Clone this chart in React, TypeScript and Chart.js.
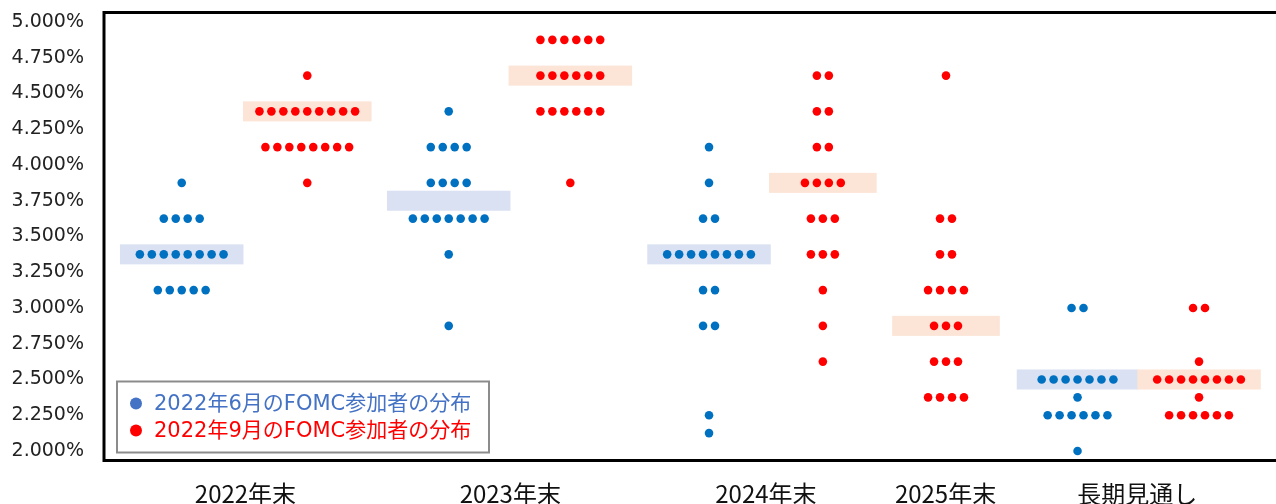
import React, { useEffect, useRef } from "react";
import { Chart, registerables } from "chart.js";

Chart.register(...registerables);

// ---------- data ----------
const categories = ["2022年末", "2023年末", "2024年末", "2025年末", "長期見通し"];
const seriesNames = ["2022年6月のFOMC参加者の分布", "2022年9月のFOMC参加者の分布"];
const yTickValues = [2.0, 2.25, 2.5, 2.75, 3.0, 3.25, 3.5, 3.75, 4.0, 4.25, 4.5, 4.75, 5.0];

// [policy rate (%), number of participants]
const june2022End: number[][] = [[3.875, 1], [3.625, 4], [3.375, 8], [3.125, 5]];
const june2023End: number[][] = [[4.375, 1], [4.125, 4], [3.875, 4], [3.625, 7], [3.375, 1], [2.875, 1]];
const june2024End: number[][] = [[4.125, 1], [3.875, 1], [3.625, 2], [3.375, 8], [3.125, 2], [2.875, 2], [2.25, 1], [2.125, 1]];
const june2025End: number[][] = [];
const juneLongRun: number[][] = [[3.0, 2], [2.5, 7], [2.375, 1], [2.25, 6], [2.0, 1]];

const sep2022End: number[][] = [[4.625, 1], [4.375, 9], [4.125, 8], [3.875, 1]];
const sep2023End: number[][] = [[4.875, 6], [4.625, 6], [4.375, 6], [3.875, 1]];
const sep2024End: number[][] = [[4.625, 2], [4.375, 2], [4.125, 2], [3.875, 4], [3.625, 3], [3.375, 3], [3.125, 1], [2.875, 1], [2.625, 1]];
const sep2025End: number[][] = [[4.625, 1], [3.625, 2], [3.375, 2], [3.125, 4], [2.875, 3], [2.625, 3], [2.375, 4]];
const sepLongRun: number[][] = [[3.0, 2], [2.625, 1], [2.5, 8], [2.375, 1], [2.25, 6]];

const juneMedians: (number | null)[] = [3.375, 3.75, 3.375, null, 2.5];
const sepMedians: (number | null)[] = [4.375, 4.625, 3.875, 2.875, 2.5];

// ---------- x-axis coordinates (axis units; 1 unit = one dot step) ----------
const juneColumnX = [6.5, 28.83, 50.6, 0, 81.42];
const sepColumnX = [17, 39, 60.12, 70.42, 91.58];
const categoryLabelX = [11.83, 33.98, 55.36, 70.38, 86.42];

// ---------- styles ----------
const juneDotColor = "#0070C0";
const sepDotColor = "#FF0000";
const juneBoxColor = "#D9E1F2";
const sepBoxColor = "#FCE4D6";
const juneLegendColor = "#4472C4";
const juneBoxWidth = [10.33, 10.33, 10.33, 0, 10.17];
const sepBoxWidth = [10.75, 10.33, 9, 9, 10.33];
const boxHeight = 0.14;

const CANVAS_W = 1304;
const CANVAS_H = 525;

function dotsFor(columns: number[][][], colX: number[]) {
  const pts: { x: number; y: number }[] = [];
  columns.forEach((levels, ci) => {
    levels.forEach(([rate, count]) => {
      for (let i = 0; i < count; i++) {
        pts.push({ x: colX[ci] + (i - (count - 1) / 2), y: rate });
      }
    });
  });
  return pts;
}

const medianBoxes = {
  id: "medianBoxes",
  beforeDatasetsDraw(chart: any) {
    const { ctx, scales } = chart;
    const xs = scales.x;
    const ys = scales.y;
    const draw = (meds: (number | null)[], colX: number[], widths: number[], color: string) => {
      meds.forEach((m, i) => {
        if (m === null) return;
        const x0 = xs.getPixelForValue(colX[i] - widths[i] / 2);
        const x1 = xs.getPixelForValue(colX[i] + widths[i] / 2);
        const y0 = ys.getPixelForValue(m + boxHeight / 2);
        const y1 = ys.getPixelForValue(m - boxHeight / 2);
        ctx.save();
        ctx.fillStyle = color;
        ctx.fillRect(x0, y0, x1 - x0, y1 - y0);
        ctx.restore();
      });
    };
    draw(juneMedians, juneColumnX, juneBoxWidth, juneBoxColor);
    draw(sepMedians, sepColumnX, sepBoxWidth, sepBoxColor);
  },
  afterDatasetsDraw(chart: any) {
    const { ctx, chartArea } = chart;
    ctx.save();
    ctx.strokeStyle = "#000";
    ctx.lineWidth = 3;
    ctx.strokeRect(chartArea.left, chartArea.top, chartArea.right - chartArea.left, chartArea.bottom - chartArea.top);
    ctx.restore();
  },
};

const innerLegend = {
  id: "innerLegend",
  afterDraw(chart: any) {
    const { ctx, chartArea } = chart;
    const left = chartArea.left + 13;
    const top = chartArea.bottom - 79;
    const w = 372;
    const h = 71;
    ctx.save();
    ctx.fillStyle = "#fff";
    ctx.fillRect(left, top, w, h);
    ctx.strokeStyle = "#8C8C8C";
    ctx.lineWidth = 2;
    ctx.strokeRect(left, top, w, h);
    const colors = [juneLegendColor, sepDotColor];
    ctx.font = '21px "DejaVu Sans", "Noto Sans CJK JP", sans-serif';
    ctx.textBaseline = "middle";
    ctx.textAlign = "left";
    seriesNames.forEach((name, i) => {
      const cy = top + 22 + i * 27;
      ctx.fillStyle = colors[i];
      ctx.beginPath();
      ctx.arc(left + 19, cy, 6, 0, Math.PI * 2);
      ctx.fill();
      ctx.fillText(name, left + 37, cy + 1);
    });
    ctx.restore();
  },
};

export default function App() {
  const ref = useRef<HTMLCanvasElement>(null);

  useEffect(() => {
    if (!ref.current) return;
    const chart = new Chart(ref.current, {
      type: "scatter",
      data: {
        datasets: [
          {
            label: seriesNames[0],
            data: dotsFor([june2022End, june2023End, june2024End, june2025End, juneLongRun], juneColumnX),
            backgroundColor: juneDotColor,
            borderWidth: 0,
            pointRadius: 4.3,
            pointHoverRadius: 4.3,
          },
          {
            label: seriesNames[1],
            data: dotsFor([sep2022End, sep2023End, sep2024End, sep2025End, sepLongRun], sepColumnX),
            backgroundColor: sepDotColor,
            borderWidth: 0,
            pointRadius: 4.3,
            pointHoverRadius: 4.3,
          },
        ],
      },
      options: {
        responsive: false,
        animation: false,
        devicePixelRatio: 1,
        events: [],
        layout: { padding: { top: 12.5, left: 0, right: 0, bottom: 0 } },
        plugins: {
          legend: { display: false },
          tooltip: { enabled: false },
          title: { display: false },
        },
        scales: {
          x: {
            type: "linear",
            min: 0,
            max: 100,
            grid: { display: false, drawTicks: false },
            border: { display: false },
            afterBuildTicks: (scale: any) => {
              scale.ticks = categoryLabelX.map((v) => ({ value: v }));
            },
            afterFit: (scale: any) => {
              scale.height = CANVAS_H - 460.5;
              scale.paddingLeft = 0;
              scale.paddingRight = 0;
            },
            ticks: {
              autoSkip: false,
              maxRotation: 0,
              padding: 19,
              color: "#111",
              font: { family: '"Noto Sans CJK JP", sans-serif', size: 24 },
              callback: (_v: any, i: number) => categories[i],
            },
          },
          y: {
            type: "linear",
            min: 1.9335,
            max: 5.0664,
            grid: { display: false, drawTicks: false },
            border: { display: false },
            afterBuildTicks: (scale: any) => {
              scale.ticks = yTickValues.map((v) => ({ value: v }));
            },
            afterFit: (scale: any) => {
              scale.width = 104;
              scale.paddingTop = 0;
              scale.paddingBottom = 0;
            },
            ticks: {
              padding: 20,
              color: "#222",
              font: { family: '"DejaVu Sans", sans-serif', size: 19 },
              callback: (v: any) => Number(v).toFixed(3) + "%",
            },
          },
        },
      },
      plugins: [medianBoxes, innerLegend],
    });
    return () => chart.destroy();
  }, []);

  return (
    <div
      style={{
        position: "fixed",
        left: 0,
        top: 0,
        width: 1276,
        height: 504,
        overflow: "hidden",
        background: "#fff",
      }}
    >
      <canvas ref={ref} width={CANVAS_W} height={CANVAS_H} style={{ width: CANVAS_W, height: CANVAS_H, display: "block" }} />
    </div>
  );
}
